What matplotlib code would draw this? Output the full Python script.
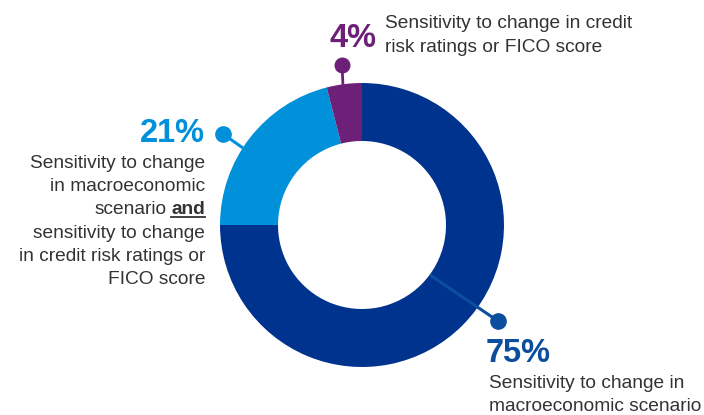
#!/usr/bin/env python3
import matplotlib
matplotlib.use("Agg")
import matplotlib.pyplot as plt

# share of respondents per sensitivity type
shares = [75, 21, 4]
pct_labels = ["75%", "21%", "4%"]
colors = ["#00338D", "#0091DA", "#6D2077"]
label_colors = ["#0C4E9E", "#0091DA", "#6D2077"]

desc_75 = ["Sensitivity to change in", "macroeconomic scenario"]
desc_21 = ["Sensitivity to change", "in macroeconomic", "scenario", "sensitivity to change",
           "in credit risk ratings or", "FICO score"]
desc_4 = ["Sensitivity to change in credit", "risk ratings or FICO score"]

W, H = 704, 415
TEXT = "#333333"
FONT = "Liberation Sans"
plt.rcParams['font.family'] = [FONT, 'DejaVu Sans']


def Y(y):
    # pixel row (from top) -> axes data coords
    return H - y


fig = plt.figure(figsize=(W / 100, H / 100), dpi=100)
ax = fig.add_axes([0, 0, 1, 1])
ax.set_xlim(0, W)
ax.set_ylim(0, H)
ax.set_aspect('equal')
ax.axis('off')

cx, cy, r_out, ring = 362, 225, 142, 58
ax.pie(shares, colors=colors, startangle=90, counterclock=False,
       radius=r_out, center=(cx, Y(cy)),
       wedgeprops=dict(width=ring, edgecolor='none'))
ax.set_xlim(0, W)
ax.set_ylim(0, H)

# connectors
def connector(x0, y0, x1, y1, col, lw=2.2, ms=11):
    ax.plot([x0, x1], [Y(y0), Y(y1)], color=col, lw=lw, solid_capstyle='butt', zorder=3)
    ax.plot([x1], [Y(y1)], 'o', color=col, ms=ms, zorder=4)

connector(430, 275, 498, 321, label_colors[0])
connector(243, 148, 223, 134, label_colors[1])
connector(343, 86, 342, 65, label_colors[2], lw=2.0, ms=10.5)

pct_kw = dict(fontsize=23.5, fontweight='bold', va='baseline')
body_kw = dict(fontsize=13.8, color=TEXT, va='baseline')
step = 23.2

# 75%
ax.text(486, Y(362), pct_labels[0], color=label_colors[0], ha='left', **pct_kw)
for i, s in enumerate(desc_75):
    ax.text(489, Y(388 + i * step), s, ha='left', **body_kw)

# 21%
ax.text(205, Y(142), pct_labels[1], color=label_colors[1], ha='right', **pct_kw)
right_x = 205
for i, s in enumerate(desc_21):
    yy = Y(168 + i * step)
    if i == 2:
        t_and = ax.text(right_x, yy, "and", ha='right', fontweight='bold', **body_kw)
        fig.canvas.draw()
        bb = t_and.get_window_extent(fig.canvas.get_renderer())
        ax.plot([bb.x0, bb.x1], [yy - 3, yy - 3], color=TEXT, lw=1.3)
        ax.text(bb.x0 - 5, yy, s, ha='right', **body_kw)
    else:
        ax.text(right_x, yy, s, ha='right', **body_kw)

# 4%
ax.text(377, Y(47), pct_labels[2], color=label_colors[2], ha='right', **pct_kw)
for i, s in enumerate(desc_4):
    ax.text(385, Y(28 + i * 24), s, ha='left', **body_kw)

fig.savefig("out.png", dpi=100)
